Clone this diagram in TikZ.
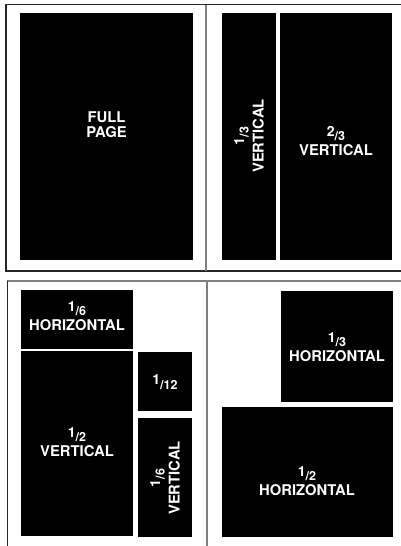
\documentclass[tikz,border=0pt]{standalone}
\usepackage{fontspec}
\setmainfont{TeX Gyre Heros}
\newcommand\adfr[2]{\raisebox{0.3em}{\fontsize{14}{14}\selectfont #1}{\fontsize{12.5}{12.5}\selectfont /#2}}
\begin{document}
\begin{tikzpicture}[x=1pt,y=-1pt,
  adbox/.style={fill=black,draw=none,text=white,align=center,inner sep=0pt,
    font=\bfseries\fontsize{14.8}{15}\selectfont},
  frame/.style={line width=1.3pt,draw=black!85},
  gframe/.style={line width=1.5pt,draw=black!50}]
\useasboundingbox (0,0) rectangle (401,546);
% top panel frame
\coordinate (t1) at (401,4.5);
\coordinate (t2) at (6,4.5);
\coordinate (t3) at (6,271);
\coordinate (t4) at (401,271);
\coordinate (td1) at (206,4.5);
\coordinate (td2) at (206,271);
\draw[frame] (t1) -- (t2) -- (t3) -- (t4);
\draw[gframe] (td1) -- (td2);
% bottom panel frame
\coordinate (b1) at (401,281);
\coordinate (b2) at (7,281);
\coordinate (b3) at (7.5,546);
\coordinate (bd1) at (207,281);
\coordinate (bd2) at (207,546);
\draw[gframe] (b1) -- (b2);
\draw[frame] (7.5,281) -- (b3);
\draw[gframe] (bd1) -- (bd2);
% top ads
\fill (20,13) rectangle (193,260);
\node[adbox] (full) at (106.5,125) {FULL\\PAGE};
\fill (222,13) rectangle (276,260);
\node[adbox,rotate=90] (third) at (249,136) {\adfr{1}{3}\\VERTICAL};
\fill (280,13) rectangle (392,260);
\node[adbox] (twothird) at (336,141) {\adfr{2}{3}\\VERTICAL};
% bottom left ads
\fill (21,290) rectangle (133,349);
\node[adbox] (sixh) at (77,316) {\adfr{1}{6}\\HORIZONTAL};
\fill (21,351) rectangle (133,536);
\node[adbox] (halfv) at (77,442) {\adfr{1}{2}\\VERTICAL};
\fill (138,352) rectangle (192,411);
\node[adbox] (twelfth) at (165,382) {\adfr{1}{12}};
\fill (138,418) rectangle (192,537);
\node[adbox,rotate=90] (sixv) at (165,478) {\adfr{1}{6}\\VERTICAL};
% bottom right ads
\fill (281,291) rectangle (393,402);
\node[adbox] (thirdh) at (337,347) {\adfr{1}{3}\\HORIZONTAL};
\fill (222,407) rectangle (393,537);
\node[adbox] (halfh) at (307,481) {\adfr{1}{2}\\HORIZONTAL};
\end{tikzpicture}
\end{document}
